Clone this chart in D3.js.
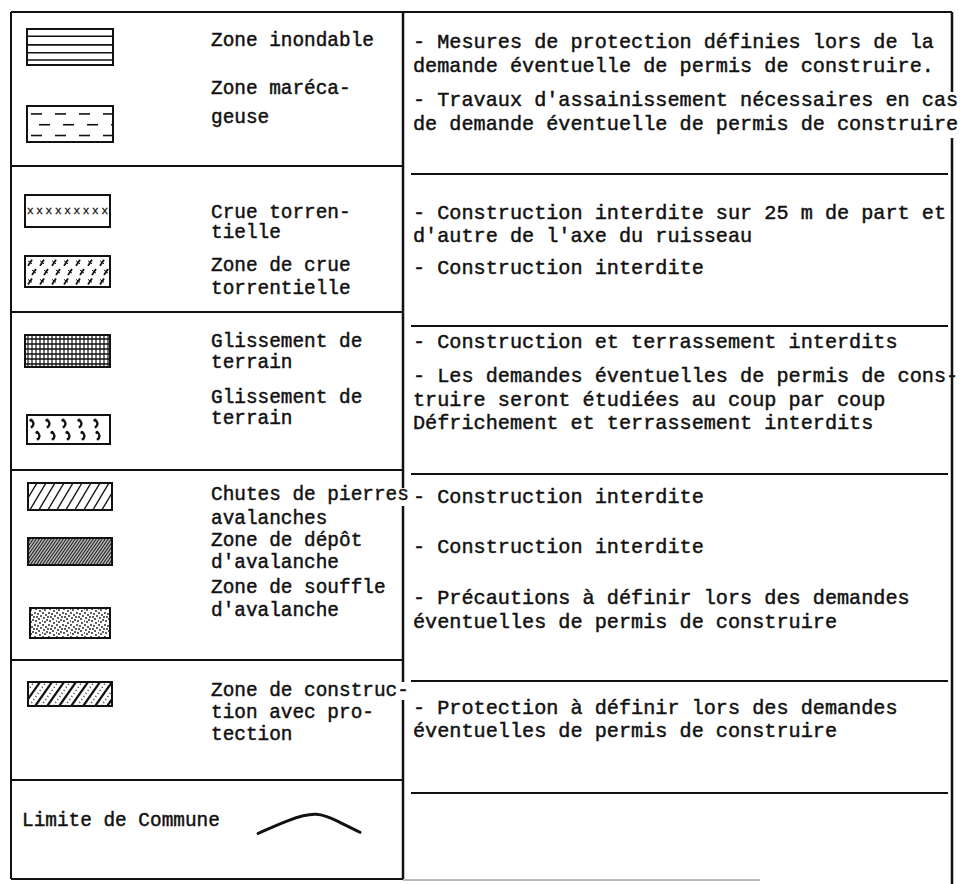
<!DOCTYPE html>
<html><head><meta charset="utf-8">
<script src="https://cdn.jsdelivr.net/npm/d3@7"></script>
<style>html,body{margin:0;padding:0;background:#fff;}svg{display:block}</style>
</head><body>
<svg id="c" width="963" height="884"></svg>
<script>
// ---------------- DATA ----------------
const zoneLabels = [
  ["Zone inondable"],
  ["Zone maréca-", "geuse"],
  ["Crue torren-", "tielle"],
  ["Zone de crue", "torrentielle"],
  ["Glissement de", "terrain"],
  ["Glissement de", "terrain"],
  ["Chutes de pierres", "avalanches"],
  ["Zone de dépôt", "d'avalanche"],
  ["Zone de souffle", "d'avalanche"],
  ["Zone de construc-", "tion avec pro-", "tection"]
];
const zonePatterns = ["hlines", "dashes", "crosses", "marks", "grid", "hooks", "hatch", "densehatch", "stipple", "hatchdots"];
const measures = [
  ["- Mesures de protection définies lors de la", "demande éventuelle de permis de construire."],
  ["- Travaux d'assainissement nécessaires en cas", "de demande éventuelle de permis de construire"],
  ["- Construction interdite sur 25 m de part et", "d'autre de l'axe du ruisseau"],
  ["- Construction interdite"],
  ["- Construction et terrassement interdits"],
  ["- Les demandes éventuelles de permis de cons-", "truire seront étudiées au coup par coup", "Défrichement et terrassement interdits"],
  ["- Construction interdite"],
  ["- Construction interdite"],
  ["- Précautions à définir lors des demandes", "éventuelles de permis de construire"],
  ["- Protection à définir lors des demandes", "éventuelles de permis de construire"]
];
const boundaryLabel = "Limite de Commune";
const boundaryCurve = [[0, 0.9], [0.3, 0.35], [0.58, 0.0], [0.8, 0.45], [1, 0.85]];

// ---------------- LAYOUT ----------------
const labelYs = [[40], [88, 117], [212, 232], [265, 288], [341, 362], [397, 418], [494, 518], [540, 562], [587, 610], [690, 712, 734]];
const measureYs = [[42, 66], [100, 124], [213, 236], [268], [342], [376, 400, 423], [497], [547], [598, 622], [708, 731]];
const swatchBoxes = [[27,29,86,36],[27,106,86,36],[25,195,85,32],[25,256,85,31],[25,335,85,32],[27,415,83,29],[28,483,84,27],[28,538,84,27],[30,608,80,30],[28,682,84,24]];
const leftRules = [166, 312, 470, 660, 780];
const rightRules = [174, 326, 474, 681, 793];
const X0 = 11, XM = 403, X1 = 952, Y0 = 12, Y1 = 879;

const svg = d3.select("#c");
const ink = "#111";
const defs = svg.append("defs");

// frame
const frame = svg.append("g").attr("stroke", ink).attr("fill", "none");
frame.append("line").attr("x1", X0).attr("x2", X1).attr("y1", Y0).attr("y2", Y0).attr("stroke-width", 2);
frame.append("line").attr("x1", X0).attr("x2", X0).attr("y1", Y0).attr("y2", Y1).attr("stroke-width", 2);
frame.append("line").attr("x1", X0).attr("x2", XM).attr("y1", Y1).attr("y2", Y1).attr("stroke-width", 2);
frame.append("line").attr("x1", XM).attr("x2", 760).attr("y1", Y1 + 1).attr("y2", Y1 + 1).attr("stroke-width", 1).attr("stroke", "#777");
[[Y0, 92], [138, 884]].forEach(s => frame.append("line").attr("x1", X1).attr("x2", X1).attr("y1", s[0]).attr("y2", s[1]).attr("stroke-width", 2.5));
[[Y0, 488], [506, 682], [700, Y1]].forEach(s => frame.append("line").attr("x1", XM).attr("x2", XM).attr("y1", s[0]).attr("y2", s[1]).attr("stroke-width", 2.5));
frame.selectAll("line.lr").data(leftRules).join("line").attr("class", "lr")
  .attr("x1", X0).attr("x2", XM).attr("y1", d => d).attr("y2", d => d).attr("stroke-width", 2);
frame.selectAll("line.rr").data(rightRules).join("line").attr("class", "rr")
  .attr("x1", XM + 8).attr("x2", X1 - 4).attr("y1", d => d).attr("y2", d => d).attr("stroke-width", 2);

// text styles
const font = "'Liberation Mono','DejaVu Sans Mono',monospace";
function txt(g, s, x, y, size) {
  return g.append("text").attr("x", x).attr("y", y).attr("dy", "0.32em")
    .attr("font-family", font).attr("font-size", size).attr("fill", ink)
    .attr("stroke", ink).attr("stroke-width", 0.45).text(s);
}
const gl = svg.append("g");
zoneLabels.forEach((lines, i) => lines.forEach((s, j) => txt(gl, s, 211, labelYs[i][j], 19.4)));
const gr = svg.append("g");
measures.forEach((lines, i) => lines.forEach((s, j) => txt(gr, s, 413, measureYs[i][j], 20.2)));
txt(svg, boundaryLabel, 22, 820, 19.4);

// boundary curve
const cx = d3.scaleLinear().domain([0, 1]).range([258, 360]);
const cy = d3.scaleLinear().domain([0, 1]).range([811, 836]);
svg.append("path").attr("d", d3.line().x(d => cx(d[0])).y(d => cy(d[1])).curve(d3.curveBasis)(boundaryCurve))
  .attr("fill", "none").attr("stroke", ink).attr("stroke-width", 3).attr("stroke-linecap", "round");

// swatches
function clipFor(i, x, y, w, h) {
  defs.append("clipPath").attr("id", "cl" + i).append("rect").attr("x", x).attr("y", y).attr("width", w).attr("height", h);
  return "url(#cl" + i + ")";
}
function hatch(g, x, y, w, h, step, sw, col, dash, slope) {
  const dx = h * (slope || 1);
  for (let k = -dx; k < w + dx; k += step) {
    const l = g.append("line").attr("x1", x + k).attr("y1", y + h).attr("x2", x + k + dx).attr("y2", y)
      .attr("stroke", col).attr("stroke-width", sw);
    if (dash) l.attr("stroke-dasharray", dash);
  }
}
const stippleDots = [[1,1],[4,3],[7,1],[9,5],[2,6],[5,8],[8,9],[11,7],[3,10],[10,2],[6,5],[12,11],[0,9],[13,4]];
defs.append("pattern").attr("id", "stip").attr("patternUnits", "userSpaceOnUse").attr("width", 14).attr("height", 12)
  .selectAll("circle").data(stippleDots).join("circle").attr("cx", d => d[0]).attr("cy", d => d[1]).attr("r", 0.9).attr("fill", ink);

swatchBoxes.forEach((b, i) => {
  const [x, y, w, h] = b;
  const kind = zonePatterns[i];
  const g = svg.append("g");
  const inner = g.append("g").attr("clip-path", clipFor(i, x, y, w, h));
  if (kind === "hlines") {
    [0.2, 0.44, 0.66, 0.86].forEach(f => inner.append("line").attr("x1", x).attr("x2", x + w).attr("y1", y + f * h).attr("y2", y + f * h).attr("stroke", ink).attr("stroke-width", 1.6));
  } else if (kind === "dashes") {
    [0.22, 0.52, 0.82].forEach((f, r) => {
      for (let k = (r % 2 ? 12 : 4); k < w; k += 24)
        inner.append("line").attr("x1", x + k).attr("x2", x + k + 11).attr("y1", y + f * h).attr("y2", y + f * h).attr("stroke", ink).attr("stroke-width", 1.6);
    });
  } else if (kind === "crosses") {
    inner.append("text").attr("x", x + 2).attr("y", y + h / 2).attr("dy", "0.3em").attr("font-family", font).attr("font-size", 11)
      .attr("textLength", w - 4).attr("fill", ink).attr("stroke", ink).attr("stroke-width", 0.3).text("xxxxxxxxx");
  } else if (kind === "marks") {
    [0.22, 0.52, 0.82].forEach((f, r) => {
      for (let k = (r % 2 ? 9 : 5); k < w - 3; k += 12) {
        const px = x + k, py = y + f * h;
        inner.append("line").attr("x1", px - 2).attr("y1", py + 3).attr("x2", px + 2).attr("y2", py - 3).attr("stroke", ink).attr("stroke-width", 1.8);
        inner.append("line").attr("x1", px - 2).attr("y1", py - 2).attr("x2", px + 2).attr("y2", py + 1).attr("stroke", ink).attr("stroke-width", 1);
      }
    });
  } else if (kind === "grid") {
    for (let k = 3; k < w; k += 4) inner.append("line").attr("x1", x + k).attr("x2", x + k).attr("y1", y).attr("y2", y + h).attr("stroke", ink).attr("stroke-width", 1.2);
    for (let k = 4; k < h; k += 5) inner.append("line").attr("x1", x).attr("x2", x + w).attr("y1", y + k).attr("y2", y + k).attr("stroke", ink).attr("stroke-width", 1.3);
  } else if (kind === "hooks") {
    [[0.3, 5, 16], [0.72, 11, 15]].forEach(r => {
      for (let k = r[1]; k < w - 2; k += r[2]) {
        const px = x + k, py = y + r[0] * h;
        inner.append("path").attr("d", `M${px - 1},${py - 4} Q${px + 4},${py} ${px - 1},${py + 4}`)
          .attr("fill", "none").attr("stroke", ink).attr("stroke-width", 2.4);
        inner.append("circle").attr("cx", px - 1).attr("cy", py - 3.5).attr("r", 1.6).attr("fill", ink);
      }
    });
  } else if (kind === "hatch") {
    hatch(inner, x, y, w, h, 9, 1.4, ink, null, 0.6);
  } else if (kind === "densehatch") {
    inner.append("rect").attr("x", x).attr("y", y).attr("width", w).attr("height", h).attr("fill", "#bbb");
    hatch(inner, x, y, w, h, 3, 1.1, "#222", null, 0.7);
  } else if (kind === "stipple") {
    inner.append("rect").attr("x", x).attr("y", y).attr("width", w).attr("height", h).attr("fill", "url(#stip)");
  } else if (kind === "hatchdots") {
    hatch(inner, x, y, w, h, 12, 2.2, ink, null, 0.7);
    hatch(inner, x + 6, y, w, h, 12, 1.6, "#555", "1.2,2.5", 0.7);
  }
  g.append("rect").attr("x", x).attr("y", y).attr("width", w).attr("height", h)
    .attr("fill", "none").attr("stroke", ink).attr("stroke-width", 2);
});
</script>
</body></html>
